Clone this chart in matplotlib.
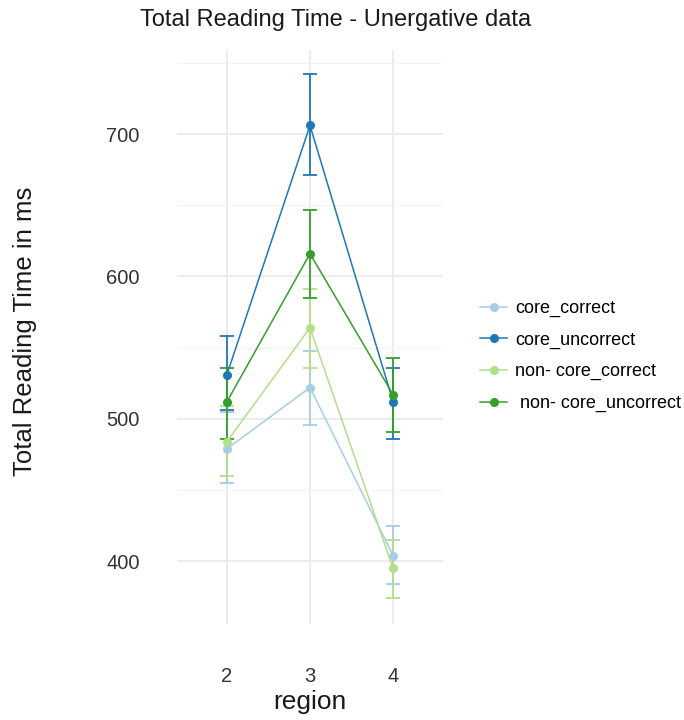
import matplotlib
matplotlib.use("Agg")
import matplotlib.pyplot as plt
import numpy as np

plt.rcParams['font.family'] = ['Liberation Sans', 'DejaVu Sans']

regions = ["2", "3", "4"]
series = ["core_correct", "core_uncorrect", "non-core_correct", "non-core_uncorrect"]
legend_labels = ["core_correct", "core_uncorrect", "non- core_correct", " non- core_uncorrect"]
colors = ["#a6cee3", "#1f78b4", "#b2df8a", "#33a02c"]

means = {
    "core_correct":       [479, 522, 404],
    "core_uncorrect":     [531, 706, 512],
    "non-core_correct":   [484, 564, 395],
    "non-core_uncorrect": [512, 616, 517],
}
upper = {
    "core_correct":       [505, 548, 425],
    "core_uncorrect":     [558, 742, 536],
    "non-core_correct":   [509, 591, 415],
    "non-core_uncorrect": [536, 647, 543],
}
lower = {
    "core_correct":       [455, 496, 384],
    "core_uncorrect":     [506, 671, 486],
    "non-core_correct":   [460, 536, 374],
    "non-core_uncorrect": [486, 585, 491],
}

W, H = 684, 720
fig = plt.figure(figsize=(W / 100, H / 100), dpi=100)
ax = fig.add_axes([177 / W, 1 - 624 / H, (443 - 177) / W, (624 - 50) / H])

x = np.arange(len(regions))
handles = []
for s, c, lab in zip(series, colors, legend_labels):
    m = np.array(means[s]); u = np.array(upper[s]); l = np.array(lower[s])
    ax.errorbar(x, m, yerr=[m - l, u - m], fmt='none', ecolor=c, elinewidth=1.3,
                capsize=5, capthick=1.3, zorder=3)
    h, = ax.plot(x, m, color=c, lw=1.1, marker='o', ms=5.5, mec=c, mfc=c, zorder=4, label=lab)
    handles.append(h)

ax.set_xlim(-0.6, 2.6)
ax.set_ylim(356, 759)
ax.set_xticks(x)
ax.set_xticklabels(regions)
ax.set_yticks([400, 500, 600, 700])
ax.set_yticks([450, 550, 650, 750], minor=True)
ax.grid(True, which='major', color='#ebebeb', lw=1.3)
ax.grid(True, which='minor', axis='y', color='#f3f3f3', lw=0.8)
ax.set_axisbelow(True)
for sp in ax.spines.values():
    sp.set_visible(False)
ax.tick_params(axis='both', which='both', length=0, labelsize=14.5, labelcolor='#333333')
ax.tick_params(axis='y', pad=27)
ax.tick_params(axis='x', pad=31)

ax.set_xlabel("region", fontsize=19, color='#1a1a1a', labelpad=3)
fig.text(336 / W, 1 - 20 / H, "Total Reading Time - Unergative data", fontsize=17,
         color='#1a1a1a', ha='center', va='center')
fig.text(25 / W, 1 - 331 / H, "Total Reading Time in ms", fontsize=18.5, color='#1a1a1a',
         rotation=90, ha='center', va='center')

fig.legend(handles=handles, labels=legend_labels, loc='center left',
           bbox_to_anchor=(473 / W, 1 - 356 / H), frameon=False, fontsize=13,
           handlelength=1.5, labelspacing=0.8, handletextpad=0.45, borderpad=0.4,
           borderaxespad=0)

fig.savefig("out.png", dpi=100)
